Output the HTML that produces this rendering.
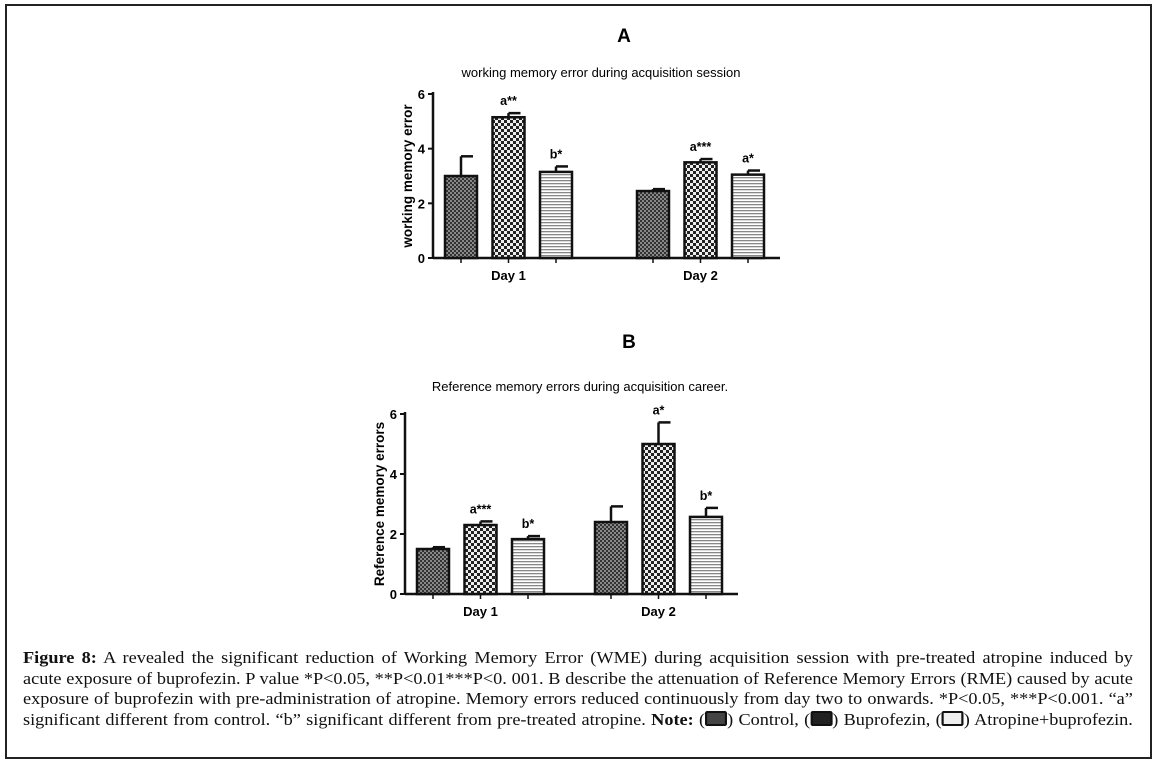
<!DOCTYPE html>
<html><head><meta charset="utf-8"><style>
body{margin:0;background:#fff;width:1156px;height:764px;overflow:hidden;position:relative}
#frame{position:absolute;left:5px;top:4px;width:1143px;height:751px;border:2px solid #222}
#cap{position:absolute;left:23px;top:648px;width:1009px;transform:scaleX(1.1);transform-origin:0 0;font-family:"Liberation Serif",serif;font-size:16.6px;line-height:20.6px;color:#111}
#cap div{text-align:justify;text-align-last:justify;white-space:nowrap}
.lg{display:inline-block;width:16px;height:11px;border:2px solid #111;border-radius:2px;vertical-align:-1px;background:#444}
</style></head><body>
<div id="frame"></div>
<svg id="svg" width="1156" height="764" style="position:absolute;left:0;top:0">
<defs>
<pattern id="pc" width="4" height="4" patternUnits="userSpaceOnUse"><rect width="4" height="4" fill="#888"/><rect width="2" height="2" fill="#333"/><rect x="2" y="2" width="2" height="2" fill="#333"/></pattern>
<pattern id="pb" width="6" height="6" patternUnits="userSpaceOnUse"><rect width="6" height="6" fill="#eee"/><rect width="3" height="3" fill="#222"/><rect x="3" y="3" width="3" height="3" fill="#222"/></pattern>
<pattern id="pa" width="4" height="3" patternUnits="userSpaceOnUse"><rect width="4" height="3" fill="#fff"/><rect width="4" height="1.3" fill="#888"/></pattern>
</defs>
</svg>
<div id="cap">
<div><b>Figure 8:</b> A revealed the significant reduction of Working Memory Error (WME) during acquisition session with pre-treated atropine induced by</div>
<div>acute exposure of buprofezin. P value *P&lt;0.05, **P&lt;0.01***P&lt;0. 001. B describe the attenuation of Reference Memory Errors (RME) caused by acute</div>
<div>exposure of buprofezin with pre-administration of atropine. Memory errors reduced continuously from day two to onwards. *P&lt;0.05, ***P&lt;0.001. “a”</div>
<div>significant different from control. “b” significant different from pre-treated atropine. <b>Note:</b> (<span class="lg"></span>) Control, (<span class="lg" style="background:#222"></span>) Buprofezin, (<span class="lg" style="background:#eee"></span>) Atropine+buprofezin.</div>
</div>
<script>
const categories=["Day 1","Day 2"];
const aMeans=[[3.0,5.15,3.15],[2.45,3.5,3.05]];
const aErr=[[0.72,0.15,0.2],[0.07,0.12,0.15]];
const aLabels=[["","a**","b*"],["","a***","a*"]];
const bMeans=[[1.5,2.3,1.83],[2.4,5.0,2.57]];
const bErr=[[0.06,0.12,0.1],[0.52,0.72,0.3]];
const bLabels=[["","a***","b*"],["","a*","b*"]];
const yTicks=[0,2,4,6];
const NS="http://www.w3.org/2000/svg";
const svg=document.getElementById('svg');
function mk(t,a,txt){const e=document.createElementNS(NS,t);for(const k in a)e.setAttribute(k,a[k]);if(txt!==undefined)e.textContent=txt;svg.appendChild(e);return e;}
const fills=['url(#pc)','url(#pb)','url(#pa)'];
function chart(o){
 const y=v=>o.y0-(v/6)*(o.y0-o.y6);
 let t=mk('text',{x:o.cx,y:o.letterY,'font-family':'Liberation Sans, sans-serif','font-size':19,'font-weight':'bold','text-anchor':'middle'},o.letter);
 
 t=mk('text',{x:o.titleX,y:o.titleY,'font-family':'Liberation Sans, sans-serif','font-size':13,'text-anchor':'middle'},o.title);
 
 let ax=mk('line',{x1:o.ax,y1:o.y6-2,x2:o.ax,y2:o.y0+1,stroke:'#111','stroke-width':2.5});
 
 ax=mk('line',{x1:o.ax,y1:o.y0,x2:o.xEnd,y2:o.y0,stroke:'#111','stroke-width':2.5});
 
 yTicks.forEach(v=>{mk('line',{x1:o.ax-5,y1:y(v),x2:o.ax,y2:y(v),stroke:'#111','stroke-width':2});
  const l=mk('text',{x:o.ax-8,y:y(v)+5,'font-family':'Liberation Sans, sans-serif','font-size':13,'font-weight':'bold','text-anchor':'end'},v);
  });
 t=mk('text',{transform:`translate(${o.ylX},${(o.y0+o.y6)/2}) rotate(-90)`,'font-family':'Liberation Sans, sans-serif','font-size':13.5,'font-weight':'bold','text-anchor':'middle'},o.ylab);
 
 categories.forEach((c,g)=>{
  const cl=mk('text',{x:o.groupX[g]+o.step,y:o.y0+22,'font-family':'Liberation Sans, sans-serif','font-size':13,'font-weight':'bold','text-anchor':'middle'},c);
  
  o.means[g].forEach((m,i)=>{
   const x=o.groupX[g]+i*o.step-o.w/2, bc=x+o.w/2;
   mk('line',{x1:bc,y1:o.y0,x2:bc,y2:o.y0+5,stroke:'#111','stroke-width':1.5});
   const top=y(m+o.err[g][i]);
   mk('line',{x1:bc,y1:y(m),x2:bc,y2:top,stroke:'#111','stroke-width':2.5});
   mk('line',{x1:bc,y1:top,x2:bc+o.w/2-4,y2:top,stroke:'#111','stroke-width':2.5});
   const r=mk('rect',{x:x,y:y(m),width:o.w,height:o.y0-y(m),fill:fills[i],stroke:'#111','stroke-width':2.5});
   
   
   if(o.labels[g][i]){const s=mk('text',{x:bc,y:top-8,'font-family':'Liberation Sans, sans-serif','font-size':12.5,'font-weight':'bold','text-anchor':'middle'},o.labels[g][i]);
    }
  });
 });
}
chart({letter:'A',cx:624,letterY:42,title:'working memory error during acquisition session',titleX:601,titleY:77,ax:433,xEnd:780,y0:258,y6:94,ylX:412,ylab:'working memory error',groupX:[461,653],step:47.5,w:32,means:aMeans,err:aErr,labels:aLabels});
chart({letter:'B',cx:629,letterY:348,title:'Reference memory errors during acquisition career.',titleX:580,titleY:391,ax:405,xEnd:738,y0:594,y6:414,ylX:384,ylab:'Reference memory errors',groupX:[433,611],step:47.5,w:32,means:bMeans,err:bErr,labels:bLabels});
</script>
</body></html>
